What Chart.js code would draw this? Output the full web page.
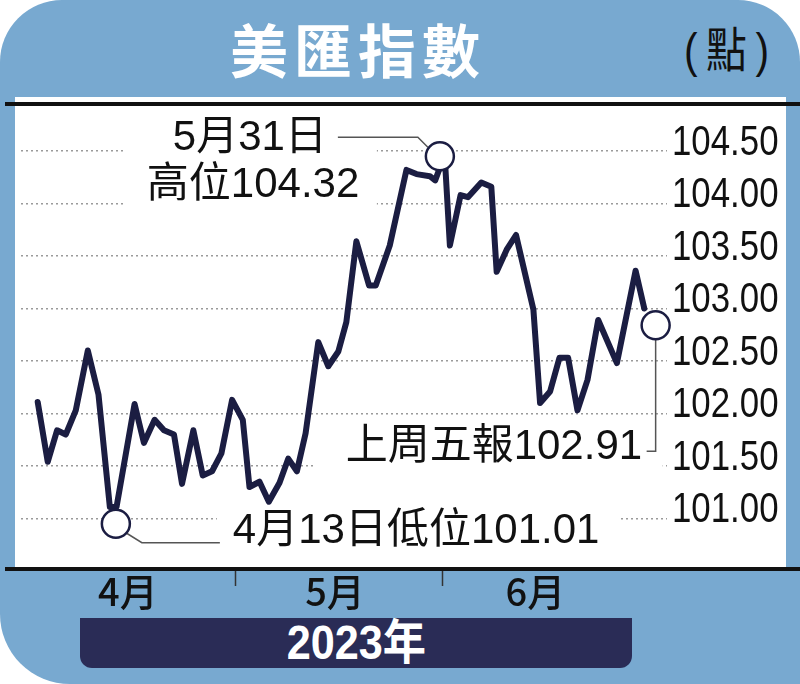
<!DOCTYPE html>
<html lang="zh-Hant">
<head>
<meta charset="utf-8">
<title>美匯指數</title>
<script src="https://cdn.jsdelivr.net/npm/chart.js@4.4.1/dist/chart.umd.min.js"></script>
<style>
  html, body { margin: 0; padding: 0; background: #fff; }
  #marco { position: relative; width: 800px; height: 684px; overflow: hidden; }
  #fondo { position: absolute; left: 0; top: 0; width: 800px; height: 684px; background: #78a9d0; border-radius: 62px 62px 0 70px; }
  #panel { position: absolute; left: 15px; top: 97px; width: 771px; height: 470px; background: #fff; }
  .raya { position: absolute; left: 5px; width: 795px; height: 4px; background: #111; }
  #titulo { position: absolute; left: 0; top: 19px; width: 716px; text-align: center; color: #fff; font: 700 58px/58px 'Noto Sans CJK TC'; letter-spacing: 6px; }
  #unidad { position: absolute; left: 684px; top: 27px; color: #111; font: 400 48px/48px 'Liberation Sans', 'Noto Sans CJK TC'; letter-spacing: 10px; transform: scaleX(0.85); transform-origin: left center; }
  #anio { position: absolute; left: 80px; top: 618px; width: 552px; height: 50px; background: #2a2c56; border-radius: 0 0 12px 12px; color: #fff; text-align: center; font: 700 48px/50px 'Liberation Sans', 'Noto Sans CJK TC'; }
  #anio span { display: inline-block; transform: scaleX(0.9); }
  #caja { position: absolute; left: 0; top: 0; width: 800px; height: 684px; }
</style>
</head>
<body>
<div id="marco">
  <div id="fondo"></div>
  <div id="panel"></div>
  <div class="raya" style="top:102px"></div>
  <div class="raya" style="top:567px"></div>
  <div id="titulo">美匯指數</div>
  <div id="unidad">(點)</div>
  <div id="anio"><span>2023年</span></div>
  <div id="caja"><canvas id="grafico"></canvas></div>
</div>
<script>
// días contados desde el 1 de abril de 2023
const dias = [0.5, 2, 3.4, 4.7, 6.2, 8, 9.6, 11.3, 12.3, 15, 16.4, 18, 19.4, 20.9, 22.1,
  23.8, 25.2, 26.6, 28, 29.6, 31.2, 32.2, 33.7, 35.1, 36.7, 38, 39.3, 40.6, 42.5, 44,
  45.5, 46.7, 48.2, 50.1, 51.1, 53.2, 55.7, 57.2, 59.2, 60, 60.7, 61.5, 62.2, 63.8, 64.9,
  66.9, 68.4, 69.2, 70.7, 72.1, 74.7, 75.7, 77.2, 78.6, 79.9, 81.3, 82.8, 84.4, 87.2, 90, 91.3];
const valores = [102.11, 101.54, 101.84, 101.80, 102.03, 102.60, 102.18, 101.11, 101.11, 102.09, 101.72, 101.94, 101.84, 101.80, 101.33,
  101.84, 101.41, 101.45, 101.62, 102.13, 101.94, 101.30, 101.35, 101.16, 101.34, 101.57, 101.45, 101.81, 102.68, 102.45,
  102.59, 102.87, 103.64, 103.22, 103.22, 103.60, 104.32, 104.28, 104.26, 104.22, 104.34, 104.37, 103.60, 104.08, 104.06,
  104.20, 104.16, 103.35, 103.56, 103.70, 102.99, 102.10, 102.21, 102.53, 102.53, 102.03, 102.32, 102.89, 102.48, 103.36, 103.00];

const meses = ['4月', '5月', '6月'];
const mesCentro = [14, 45, 75];
const mesInicio = [30, 61];
const marcasY = [101, 101.5, 102, 102.5, 103, 103.5, 104, 104.5];

// puntos marcados: [día, valor]
const alto = [60.7, 104.45];
const bajo = [12.2, 100.95];
const ultimo = [93, 102.84];
const textoAlto = ['5月31日', '高位104.32'];
const textoBajo = '4月13日低位101.01';
const textoUltimo = '上周五報102.91';

const tinta = '#1b1d42';
const fuenteTexto = "'Liberation Sans', 'Noto Sans CJK TC', sans-serif";

const anotaciones = {
  id: 'anotaciones',
  afterDatasetsDraw(chart) {
    const { ctx, scales: { x, y } } = chart;
    ctx.save();
    ctx.font = '42px ' + fuenteTexto;
    ctx.textBaseline = 'middle';

    const blanco = (x0, y0, x1, y1) => { ctx.fillStyle = '#fff'; ctx.fillRect(x0, y0, x1 - x0, y1 - y0); };
    const texto = (t, tx, ty) => { ctx.fillStyle = '#111'; ctx.fillText(t, tx, ty); };
    const guia = (pts) => {
      ctx.beginPath();
      ctx.moveTo(pts[0][0], pts[0][1]);
      pts.slice(1).forEach(p => ctx.lineTo(p[0], p[1]));
      ctx.strokeStyle = '#555';
      ctx.lineWidth = 1.5;
      ctx.stroke();
    };
    const circulo = (cx, cy) => {
      ctx.beginPath();
      ctx.arc(cx, cy, 14, 0, Math.PI * 2);
      ctx.fillStyle = '#fff';
      ctx.fill();
      ctx.strokeStyle = tinta;
      ctx.lineWidth = 2.5;
      ctx.stroke();
    };

    // máximo
    let cx = x.getPixelForValue(alto[0]), cy = y.getPixelForValue(alto[1]);
    blanco(cx - 315, cy - 38, cx - 63, cy + 50);
    texto(textoAlto[0], cx - 267, cy - 18);
    texto(textoAlto[1], cx - 293, cy + 29);
    guia([[cx - 102, cy - 19], [cx - 22, cy - 19], [cx - 12, cy - 9]]);
    circulo(cx, cy);

    // mínimo
    cx = x.getPixelForValue(bajo[0]); cy = y.getPixelForValue(bajo[1]);
    blanco(cx + 101, cy - 14, cx + 504, cy + 26);
    texto(textoBajo, cx + 117, cy + 8);
    guia([[cx + 10, cy + 9], [cx + 26, cy + 19], [cx + 104, cy + 19]]);
    circulo(cx, cy);

    // último
    cx = x.getPixelForValue(ultimo[0]); cy = y.getPixelForValue(ultimo[1]);
    blanco(cx - 340, cy + 103, cx + 7, cy + 145);
    texto(textoUltimo, cx - 310, cy + 122);
    guia([[cx, cy + 14], [cx, cy + 126], [cx - 9, cy + 126]]);
    circulo(cx, cy);

    ctx.restore();
  },
  afterDraw(chart) {
    const { ctx, chartArea, scales: { x, y } } = chart;
    ctx.save();
    // separadores de mes
    ctx.strokeStyle = '#333';
    ctx.lineWidth = 1.5;
    mesInicio.forEach(d => {
      const px = Math.round(x.getPixelForValue(d)) + 0.5;
      ctx.beginPath();
      ctx.moveTo(px, 571);
      ctx.lineTo(px, 586);
      ctx.stroke();
    });
    // etiquetas del eje y, en letra estrecha
    ctx.fillStyle = '#111';
    ctx.font = '43px ' + fuenteTexto;
    ctx.textBaseline = 'middle';
    ctx.textAlign = 'left';
    y.ticks.forEach(t => {
      const py = y.getPixelForValue(t.value) - 8;
      ctx.save();
      ctx.translate(chartArea.right + 5, py);
      ctx.scale(0.81, 1);
      ctx.fillText(t.value.toFixed(2), 0, 0);
      ctx.restore();
    });
    ctx.restore();
  }
};

new Chart(document.getElementById('grafico'), {
  type: 'line',
  data: {
    datasets: [{
      data: dias.map((d, i) => ({ x: d, y: valores[i] })),
      borderColor: tinta,
      borderWidth: 6,
      borderJoinStyle: 'round',
      borderCapStyle: 'round',
      pointRadius: 0,
      tension: 0,
      fill: false
    }]
  },
  options: {
    responsive: true,
    maintainAspectRatio: false,
    animation: false,
    layout: { padding: { left: 21, right: 0, top: 98.5, bottom: 73.5 } },
    plugins: { legend: { display: false }, tooltip: { enabled: false } },
    scales: {
      x: {
        type: 'linear',
        min: -2,
        max: 94.7,
        grid: { display: false },
        border: { display: false },
        afterBuildTicks: ax => { ax.ticks = mesCentro.map(v => ({ value: v })); },
        afterFit: ax => { ax.height = 50; },
        ticks: {
          autoSkip: false,
          maxRotation: 0,
          padding: 0,
          color: '#111',
          font: { family: "'Noto Sans CJK TC', sans-serif", size: 38, weight: '500' },
          callback: (v, i) => meses[i]
        }
      },
      y: {
        position: 'right',
        min: 100.6,
        max: 105,
        grid: { color: '#9a9a9a', lineWidth: 1.5, drawTicks: false },
        border: { display: false, dash: [2, 3] },
        afterBuildTicks: ax => { ax.ticks = marcasY.map(v => ({ value: v })); },
        afterFit: ax => { ax.width = 133; },
        ticks: { display: false, autoSkip: false }
      }
    }
  },
  plugins: [anotaciones]
});
</script>
</body>
</html>
